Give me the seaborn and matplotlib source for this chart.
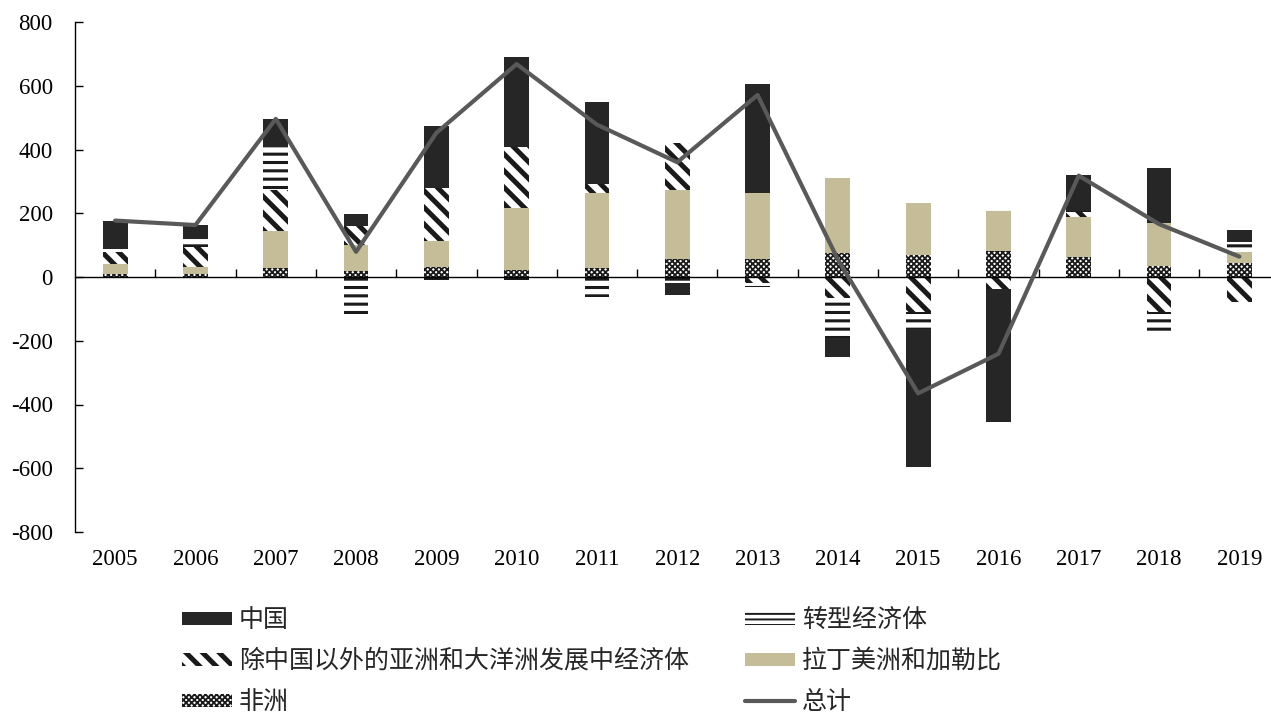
import numpy as np
import pandas as pd
import matplotlib
matplotlib.use("Agg")
import matplotlib.pyplot as plt
import seaborn as sns
from matplotlib.patches import Patch
from matplotlib.lines import Line2D

# FDI flows by region, 2005-2019 (stacked components and overall total)
years = [str(y) for y in range(2005, 2020)]
africa = [10, 10, 29, 19, 32, 22, 27, 55, 55, 76, 69, 83, 64, 34, 43]
latam = [31, 20, 115, 81, 82, 193, 238, 218, 207, 234, 164, 125, 125, 134, 36]
asia_ex_china = [39, 65, 129, 60, 166, 194, 27, 146, -20, -67, -109, -39, 14, -109, -77]
transition = [8, 23, 134, -116, -10, -10, -64, -20, -12, -125, -55, 3, 3, -59, 31]
china = [89, 45, 88, 37, 194, 282, 258, -38, 342, -58, -433, -417, 113, 173, 37]
total = [177, 163, 496, 79, 452, 668, 478, 360, 571, 55, -365, -241, 318, 166, 64]

labels = {
    "china": "中国",
    "transition": "转型经济体",
    "asia": "除中国以外的亚洲和大洋洲发展中经济体",
    "latam": "拉丁美洲和加勒比",
    "africa": "非洲",
    "total": "总计",
}

sns.set_theme(style="white")
plt.rcParams["font.family"] = ["Liberation Serif", "Noto Sans CJK SC"]
plt.rcParams["axes.unicode_minus"] = False
plt.rcParams["hatch.color"] = "#1a1a1a"

INK = "#1a1a1a"
styles = {
    "africa": dict(face="white", edge=INK, hatch="xxxxxx", hlw=1.3),
    "latam": dict(face="#C4BD97", edge="#C4BD97", hatch=None, hlw=1.0),
    "asia": dict(face="white", edge=INK, hatch="\\\\", hlw=3.6),
    "transition": dict(face="white", edge=INK, hatch="--", hlw=2.2),
    "china": dict(face="#262626", edge="#262626", hatch=None, hlw=1.0),
}
# legend swatches use a finer line pattern for the transition economies
legend_hatch = {"transition": ("---", 1.4)}

fig = plt.figure(figsize=(12.71, 7.13), dpi=100)
ax = fig.add_axes([75 / 1271, 181 / 713, 1204.5 / 1271, 510 / 713])

x = np.arange(len(years))
pos_base = np.zeros(len(years))
neg_base = np.zeros(len(years))
stack = [("africa", africa), ("latam", latam), ("asia", asia_ex_china),
         ("transition", transition), ("china", china)]
for key, vals in stack:
    v = np.asarray(vals, dtype=float)
    st = styles[key]
    bottom = np.where(v >= 0, pos_base, neg_base)
    plt.rcParams["hatch.linewidth"] = st["hlw"]
    bars = ax.bar(x, v, width=0.31, bottom=bottom, color=st["face"],
                  edgecolor=st["edge"], hatch=st["hatch"], linewidth=0, zorder=2)
    for b in bars:
        try:
            b.set_hatch_linewidth(st["hlw"])
        except AttributeError:
            pass
    pos_base += np.where(v > 0, v, 0)
    neg_base += np.where(v < 0, v, 0)

df_total = pd.DataFrame({"pos": x, "total": total})
sns.lineplot(data=df_total, x="pos", y="total", color="#595959", linewidth=3,
             ax=ax, zorder=3)

ax.set_xlim(-0.5, 14.5)
ax.set_ylim(-800, 800)
ax.set_yticks(np.arange(-800, 801, 200))
ax.set_xlabel("")
ax.set_ylabel("")
ax.grid(False)
for side in ("top", "right"):
    ax.spines[side].set_visible(False)
ax.spines["bottom"].set_position(("data", 0))
for side in ("left", "bottom"):
    ax.spines[side].set_color("black")
    ax.spines[side].set_linewidth(1.0)

ax.set_xticks(x)
ax.set_xticklabels(years)
ax.set_xticks(np.arange(0.5, 14, 1), minor=True)
ax.tick_params(axis="x", which="major", length=0, pad=196, labelsize=16.5,
               colors="black")
ax.tick_params(axis="x", which="minor", direction="in", length=5.5, width=1,
               color="black", bottom=True)
ax.tick_params(axis="y", direction="in", length=5.5, width=1, pad=16,
               labelsize=16.5, colors="black", left=True)


def swatch_style(key):
    st = styles[key]
    hatch, hlw = legend_hatch.get(key, (st["hatch"], st["hlw"]))
    return st, hatch, hlw


def bar_handle(key):
    st, hatch, hlw = swatch_style(key)
    return Patch(facecolor=st["face"], edgecolor=st["edge"], hatch=hatch,
                 linewidth=0)


def fix_swatches(leg, keys):
    for patch, key in zip(leg.get_patches(), keys):
        st, hatch, hlw = swatch_style(key)
        patch.set_hatch(hatch)
        try:
            patch.set_hatch_linewidth(hlw)
        except AttributeError:
            pass


legend_kw = dict(loc="upper left", frameon=False, borderpad=0, borderaxespad=0,
                 handlelength=2.0, handleheight=0.42, handletextpad=0.28,
                 labelspacing=0.6,
                 prop={"family": ["Noto Sans CJK SC"], "size": 18})

left_keys = ["china", "asia", "africa"]
leg1 = fig.legend([bar_handle(k) for k in left_keys],
                  [labels[k] for k in left_keys],
                  bbox_to_anchor=(182 / 1271, 1 - 607 / 713), **legend_kw)
fix_swatches(leg1, left_keys)

right_keys = ["transition", "latam"]
leg2 = fig.legend([bar_handle(k) for k in right_keys] +
                  [Line2D([], [], color="#595959", linewidth=3)],
                  [labels[k] for k in right_keys] + [labels["total"]],
                  bbox_to_anchor=(745 / 1271, 1 - 607 / 713), **legend_kw)
fix_swatches(leg2, right_keys)

fig.savefig("out.png", dpi=100)
